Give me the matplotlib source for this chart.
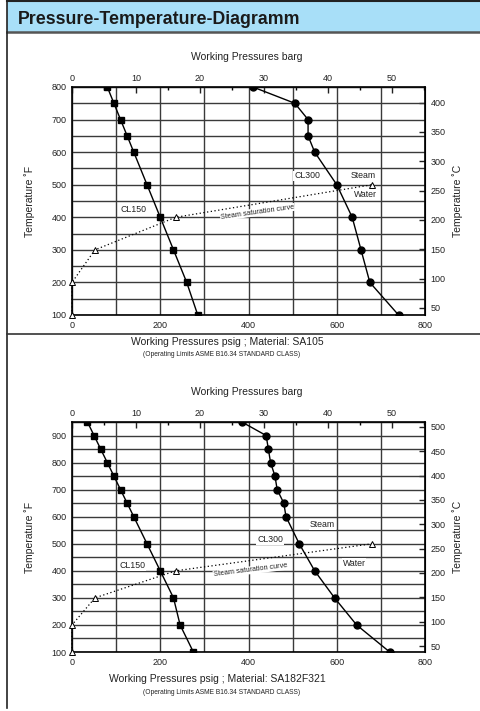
import matplotlib
matplotlib.use('Agg')
import matplotlib.pyplot as plt
from matplotlib.lines import Line2D
from matplotlib.patches import Rectangle
from matplotlib.ticker import MultipleLocator

plt.rcParams['font.family'] = ['Liberation Sans', 'DejaVu Sans']

W, H = 480, 711
PSI_PER_BAR = 14.5038

# SA105 (top panel)
temp_f_top = [100, 200, 300, 400, 500, 600, 650, 700, 750, 800]
cl150_top = [285, 260, 230, 200, 170, 140, 125, 110, 95, 80]
cl300_top = [740, 675, 655, 635, 600, 550, 535, 535, 505, 410]

# SA182F321 (bottom panel)
temp_f_bot = [100, 200, 300, 400, 500, 600, 650, 700, 750, 800, 850, 900, 950]
cl150_bot = [275, 245, 230, 200, 170, 140, 125, 110, 95, 80, 65, 50, 35]
cl300_bot = [720, 645, 595, 550, 515, 485, 480, 465, 460, 450, 445, 440, 385]

# steam saturation curve
sat_temp_f = [100, 200, 300, 400, 500]
sat_psig = [0, 0, 52, 235, 680]


def fx(px):
    return px / W


def fy(py):
    return 1 - py / H


def psig_to_barg(p):
    return p / PSI_PER_BAR


def barg_to_psig(b):
    return b * PSI_PER_BAR


def f_to_c(t):
    return (t - 32) / 1.8


def c_to_f(t):
    return t * 1.8 + 32


def draw_panel(ax, temps, cl150, cl300, ymax, cmax, material, top_px, bot_px, lbl):
    ax.set_xlim(0, 800)
    ax.set_ylim(100, ymax)
    ax.set_axisbelow(True)
    ax.xaxis.set_major_locator(MultipleLocator(200))
    ax.xaxis.set_minor_locator(MultipleLocator(100))
    ax.yaxis.set_major_locator(MultipleLocator(100))
    ax.yaxis.set_minor_locator(MultipleLocator(50))
    ax.grid(which='both', color='#3a3a3a', linewidth=1.0)
    ax.tick_params(which='both', length=0, labelsize=6.5, pad=4, colors='#222222')
    for s in ax.spines.values():
        s.set_linewidth(1.2)

    ax.plot(cl150, temps, color='black', lw=1.0, marker='s', ms=4.8, zorder=3)
    ax.plot(cl300, temps, color='black', lw=1.0, marker='o', ms=5, zorder=3)
    ax.plot(sat_psig, sat_temp_f, color='black', lw=0.9, ls=(0, (1, 2)),
            marker='^', ms=5, mfc='white', mec='black', mew=0.7,
            zorder=3, clip_on=False)

    box = dict(facecolor='white', edgecolor='none', pad=0.6)
    for key, txt in [('cl150', 'CL150'), ('cl300', 'CL300'), ('steam', 'Steam'), ('water', 'Water')]:
        ax.text(lbl[key][0], lbl[key][1], txt, fontsize=6.3, ha='center', va='center',
                color='#222222', bbox=box, zorder=1.5)
    ax.text(lbl['sat'][0], lbl['sat'][1], 'Steam saturation curve', fontsize=5.2,
            ha='center', va='center', rotation=lbl['rot'], color='#222222',
            bbox=dict(facecolor='white', edgecolor='none', pad=0.3), zorder=1.5)

    top = ax.secondary_xaxis('top', functions=(psig_to_barg, barg_to_psig))
    top.xaxis.set_major_locator(MultipleLocator(10))
    top.xaxis.set_minor_locator(MultipleLocator(5))
    top.tick_params(which='major', direction='in', length=4, width=1, labelsize=6.5, pad=3,
                    colors='#222222')
    top.tick_params(which='minor', direction='in', length=2.5, width=1)
    top.set_xticks([0, 10, 20, 30, 40, 50])

    right = ax.secondary_yaxis('right', functions=(f_to_c, c_to_f))
    right.set_yticks(list(range(50, cmax + 1, 50)))
    right.tick_params(direction='in', length=4, width=1, labelsize=6.5, pad=4, colors='#222222')

    ax.set_ylabel('Temperature ˚F', fontsize=7.5, color='#222222')
    ax.yaxis.set_label_coords((35 - 72) / 353, 0.5)

    fig = ax.figure
    mid = (top_px + bot_px) / 2
    fig.text(fx(458), fy(mid), 'Temperature ˚C', fontsize=7.5, rotation=90,
             ha='center', va='center', color='#222222')
    fig.text(fx(247), fy(top_px - 30), 'Working Pressures barg', fontsize=7.5,
             ha='center', va='center', color='#222222')
    fig.text(fx(lbl['xlab_x']), fy(bot_px + 27), 'Working Pressures psig ; Material: ' + material,
             fontsize=7.5, ha='center', va='center', color='#222222')
    fig.text(fx(222), fy(bot_px + 40), '(Operating Limits ASME B16.34 STANDARD CLASS)',
             fontsize=4.8, ha='center', va='center', color='#222222')


fig = plt.figure(figsize=(W / 100, H / 100), dpi=100)

# page frame and header band
fig.add_artist(Rectangle((fx(7), fy(32)), 1 - fx(7), 32 / H, transform=fig.transFigure,
                         facecolor='#a8dff8', edgecolor='none'))
fig.add_artist(Line2D([fx(7), 1], [fy(0.7), fy(0.7)], color='#222222', lw=1.5))
fig.add_artist(Line2D([fx(7), 1], [fy(32), fy(32)], color='#555555', lw=1.8))
fig.add_artist(Line2D([fx(7), fx(7)], [fy(0), fy(708)], color='#222222', lw=1.2))
fig.add_artist(Line2D([fx(7), 1], [fy(334), fy(334)], color='#333333', lw=1.2))
fig.text(fx(18), fy(19), 'Pressure-Temperature-Diagramm', fontsize=12.8, fontweight='bold',
         ha='left', va='center', color='#1a1a1a')

ax1 = fig.add_axes([fx(72), fy(315), 353 / W, 228 / H])
draw_panel(ax1, temp_f_top, cl150_top, cl300_top, 800, 400, 'SA105', 87, 315,
           dict(cl150=(140, 425), cl300=(533, 527), steam=(660, 527), water=(664, 471),
                sat=(420, 416), rot=8, xlab_x=227))

ax2 = fig.add_axes([fx(72), fy(652), 353 / W, 230 / H])
draw_panel(ax2, temp_f_bot, cl150_bot, cl300_bot, 950, 500, 'SA182F321', 422, 652,
           dict(cl150=(136, 420), cl300=(449, 516), steam=(567, 572), water=(639, 428),
                sat=(404, 402), rot=7, xlab_x=217))

fig.savefig('out.png', dpi=100)
